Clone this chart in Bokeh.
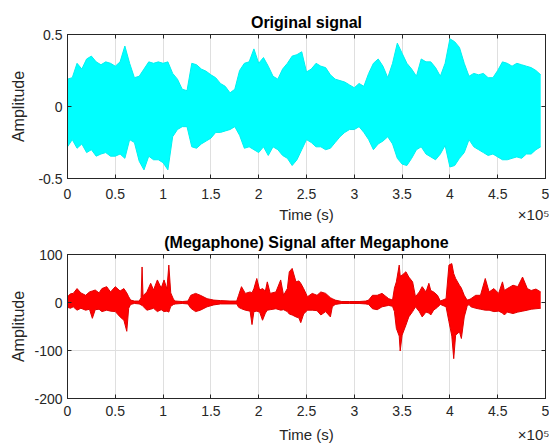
from bokeh.plotting import figure
from bokeh.layouts import column
from bokeh.models import Range1d, LinearAxis, FixedTicker, ColumnDataSource
from bokeh.embed import file_html
from bokeh.resources import INLINE

# ---------------- data ----------------
# Original signal: envelope (upper / lower) sampled every 5000 samples
orig_time = list(range(0, 500000, 5000))
orig_upper = [0.19, 0.20, 0.30, 0.26, 0.33, 0.35, 0.31, 0.29, 0.31, 0.30,
              0.28, 0.31, 0.42, 0.30, 0.20, 0.21, 0.26, 0.31, 0.30, 0.31,
              0.30, 0.31, 0.23, 0.19, 0.12, 0.11, 0.30, 0.29, 0.26, 0.245,
              0.22, 0.20, 0.16, 0.14, 0.095, 0.12, 0.25, 0.30, 0.31, 0.40,
              0.30, 0.34, 0.28, 0.21, 0.19, 0.26, 0.30, 0.35, 0.36, 0.38,
              0.24, 0.26, 0.30, 0.28, 0.27, 0.22, 0.19, 0.18, 0.17, 0.15,
              0.13, 0.16, 0.14, 0.23, 0.30, 0.33, 0.28, 0.20, 0.30, 0.44,
              0.37, 0.30, 0.26, 0.21, 0.33, 0.31, 0.31, 0.27, 0.21, 0.30,
              0.47, 0.45, 0.41, 0.30, 0.21, 0.23, 0.22, 0.23, 0.20, 0.20,
              0.25, 0.31, 0.30, 0.28, 0.30, 0.29, 0.28, 0.27, 0.25, 0.22]
orig_lower = [-0.28, -0.23, -0.29, -0.26, -0.32, -0.30, -0.345, -0.33, -0.32, -0.345,
              -0.345, -0.33, -0.36, -0.23, -0.25, -0.38, -0.44, -0.345, -0.37, -0.37,
              -0.39, -0.44, -0.21, -0.16, -0.14, -0.14, -0.28, -0.29, -0.26, -0.24,
              -0.22, -0.18, -0.18, -0.17, -0.16, -0.14, -0.20, -0.29, -0.28, -0.30,
              -0.32, -0.28, -0.34, -0.28, -0.30, -0.34, -0.36, -0.41, -0.37, -0.30,
              -0.23, -0.25, -0.28, -0.28, -0.30, -0.29, -0.25, -0.21, -0.18, -0.16,
              -0.16, -0.14, -0.18, -0.23, -0.30, -0.26, -0.24, -0.21, -0.26, -0.36,
              -0.40, -0.41, -0.36, -0.30, -0.28, -0.33, -0.35, -0.37, -0.33, -0.27,
              -0.42, -0.41, -0.36, -0.32, -0.23, -0.28, -0.30, -0.32, -0.34, -0.33,
              -0.35, -0.37, -0.37, -0.36, -0.35, -0.36, -0.33, -0.33, -0.30, -0.28]

# Signal after megaphone: envelope at irregular sample positions (spikes included)
mega_time = [0, 3000, 6000, 10000, 14000, 19000, 23000, 26000, 29000, 33000,
             36000, 41000, 45000, 50000, 55000, 59000, 62000, 64000, 66000, 70000,
             75000, 77000, 78000, 79000, 83000, 87000, 90000, 94000, 98000, 101000,
             104000, 106000, 108000, 111000, 113000, 120000, 126000, 129000, 134000, 139000,
             146000, 153000, 160000, 170000, 177000, 179000, 182000, 186000, 191000, 193000,
             195000, 198000, 201000, 204000, 207000, 209000, 212000, 218000, 223000, 226000,
             230000, 232000, 235000, 239000, 242000, 244000, 247000, 251000, 256000, 261000,
             265000, 270000, 275000, 277000, 280000, 287000, 295000, 305000, 312000, 315000,
             319000, 324000, 329000, 336000, 340000, 342000, 344000, 347000, 348000, 350000,
             354000, 357000, 361000, 364000, 368000, 371000, 375000, 378000, 380000, 383000,
             387000, 390000, 396000, 399000, 402000, 404000, 406000, 410000, 412000, 415000,
             418000, 420000, 422000, 427000, 432000, 437000, 441000, 446000, 451000, 455000,
             457000, 460000, 466000, 471000, 476000, 481000, 485000, 490000, 495000]
mega_upper = [12, 18, 19, 29, 20, 15, 22, 24, 26, 20,
              29, 33, 22, 33, 24, 29, 20, 12, 5, 3,
              3, 10, 74, 14, 22, 40, 26, 47, 30, 47,
              28, 78, 20, 6, 3, 2, 3, 15, 19, 15,
              8, 5, 4, 3, 3, 15, 33, 19, 22, 20,
              29, 50, 26, 29, 24, 43, 19, 22, 47, 15,
              29, 64, 71, 43, 45, 40, 29, 12, 19, 15,
              22, 19, 10, 8, 5, 2, 2, 2, 3, 5,
              15, 15, 19, 8, 5, 30, 43, 78, 55, 57,
              64, 53, 43, 12, 22, 33, 22, 40, 25, 22,
              15, 3, 8, 78, 81, 60, 50, 36, 30, 15,
              5, 6, 8, 15, 15, 50, 22, 29, 19, 43,
              25, 29, 36, 33, 53, 29, 25, 28, 22]
mega_lower = [-10, -12, -9, -16, -12, -16, -14, -33, -15, -14,
              -19, -16, -18, -19, -30, -37, -60, -12, -4, -2,
              -3, -5, -6, -8, -16, -14, -12, -19, -15, -19,
              -18, -20, -8, -4, -3, -2, -3, -12, -19, -16,
              -9, -5, -3, -3, -3, -10, -13, -16, -18, -46,
              -19, -18, -20, -37, -22, -16, -15, -13, -16, -15,
              -19, -24, -26, -30, -32, -42, -24, -16, -16, -17,
              -26, -19, -30, -9, -4, -2, -2, -2, -3, -4,
              -13, -15, -9, -6, -8, -19, -54, -70, -101, -68,
              -47, -30, -19, -9, -19, -30, -20, -22, -26, -16,
              -10, -4, -9, -40, -70, -117, -68, -61, -75, -30,
              -8, -4, -9, -12, -14, -16, -16, -19, -18, -22,
              -26, -20, -23, -20, -18, -16, -14, -13, -12]

x_ticks = [0, 50000, 100000, 150000, 200000, 250000, 300000, 350000, 400000, 450000, 500000]
x_tick_labels = ["0", "0.5", "1", "1.5", "2", "2.5", "3", "3.5", "4", "4.5", "5"]
x_axis_title = "Time (s)"
x_exponent_label = "\u00d710\u2075"
y_axis_title = "Amplitude"
orig_y_ticks = [-0.5, 0, 0.5]
orig_y_labels = ["-0.5", "0", "0.5"]
mega_y_ticks = [-200, -100, 0, 100]
mega_y_labels = ["-200", "-100", "0", "100"]

# ---------------- styling ----------------
FONT = "Liberation Sans"
AXC = "#262626"
GRIDC = "#dfdfdf"
XTITLE_POS = 250000   # centre of the x axis title (data units)
EXP_POS = 488000      # centre of the exponent text (data units)


def make_fig(title, yr, yticks, ylabels, border_top, tick_standoff, xtitle_standoff, ylab_standoff):
    p = figure(frame_width=478, frame_height=144,
               min_border_left=67, min_border_right=4,
               min_border_top=border_top, min_border_bottom=0,
               x_range=Range1d(0, 500000), y_range=Range1d(yr[0], yr[1]),
               output_backend="svg", toolbar_location=None)
    p.title.text = title
    p.title.align = "center"
    p.title.text_font = FONT
    p.title.text_font_size = "16px"
    p.title.text_font_style = "bold"
    p.title.text_color = "#000000"
    p.title.standoff = 7
    p.outline_line_color = AXC
    p.outline_line_alpha = 1.0
    p.background_fill_color = "white"
    p.border_fill_color = "white"

    xt = FixedTicker(ticks=x_ticks)
    yt = FixedTicker(ticks=yticks)

    for ax in p.xaxis:
        ax.ticker = xt
        ax.major_label_overrides = {t: l for t, l in zip(x_ticks, x_tick_labels)}
        ax.major_label_standoff = tick_standoff
    for ax in p.yaxis:
        ax.ticker = yt
        ax.major_label_overrides = {t: l for t, l in zip(yticks, ylabels)}
        ax.axis_label = y_axis_title
        ax.major_label_standoff = 5
        ax.axis_label_standoff = ylab_standoff

    p.xgrid.ticker = xt
    p.ygrid.ticker = yt
    for g in (p.xgrid, p.ygrid):
        g.grid_line_color = GRIDC
        g.grid_line_width = 1

    for ax in list(p.xaxis) + list(p.yaxis):
        ax.axis_line_color = AXC
        ax.major_tick_line_color = AXC
        ax.major_tick_in = 4
        ax.major_tick_out = 0
        ax.minor_tick_line_color = None
        ax.major_label_text_font = FONT
        ax.major_label_text_font_size = "14px"
        ax.major_label_text_color = AXC
        ax.axis_label_text_font = FONT
        ax.axis_label_text_font_size = "16px"
        ax.axis_label_text_font_style = "normal"
        ax.axis_label_text_color = AXC

    # mirrored ticks (box on), without labels
    for loc, tk in (("above", xt), ("right", yt)):
        ax = LinearAxis(ticker=tk, major_label_text_color=None, major_label_standoff=0,
                        major_label_text_font_size="1px",
                        axis_line_color=AXC, major_tick_line_color=AXC,
                        major_tick_in=4, major_tick_out=0, minor_tick_line_color=None)
        p.add_layout(ax, loc)

    # x axis title and the "x10^5" exponent on one text row below the tick labels
    ex = LinearAxis(ticker=FixedTicker(ticks=[XTITLE_POS, EXP_POS]),
                    major_label_overrides={XTITLE_POS: x_axis_title, EXP_POS: x_exponent_label},
                    axis_line_color=None, major_tick_line_color=None, minor_tick_line_color=None,
                    major_tick_in=0, major_tick_out=0,
                    major_label_text_font=FONT, major_label_text_font_size="15px",
                    major_label_text_color=AXC, major_label_standoff=xtitle_standoff)
    p.add_layout(ex, "below")
    return p


p1 = make_fig("Original signal", (-0.5, 0.5), orig_y_ticks, orig_y_labels, 34, 10, 4, 8)
src1 = ColumnDataSource(dict(t=orig_time, up=orig_upper, lo=orig_lower))
p1.varea(x="t", y1="lo", y2="up", source=src1, fill_color="#00ffff", fill_alpha=1.0)
p1.line(x="t", y="up", source=src1, line_color="#00f0f0", line_width=1)
p1.line(x="t", y="lo", source=src1, line_color="#00f0f0", line_width=1)

p2 = make_fig("(Megaphone) Signal after Megaphone", (-200, 100), mega_y_ticks, mega_y_labels, 29, 7, 7, 4)
src2 = ColumnDataSource(dict(t=mega_time, up=mega_upper, lo=mega_lower))
p2.varea(x="t", y1="lo", y2="up", source=src2, fill_color="#ff0000", fill_alpha=1.0)
p2.line(x="t", y="up", source=src2, line_color="#e00000", line_width=1)
p2.line(x="t", y="lo", source=src2, line_color="#e00000", line_width=1)

layout = column(p1, p2, spacing=0)
open("out.html", "w").write(file_html(layout, INLINE))
